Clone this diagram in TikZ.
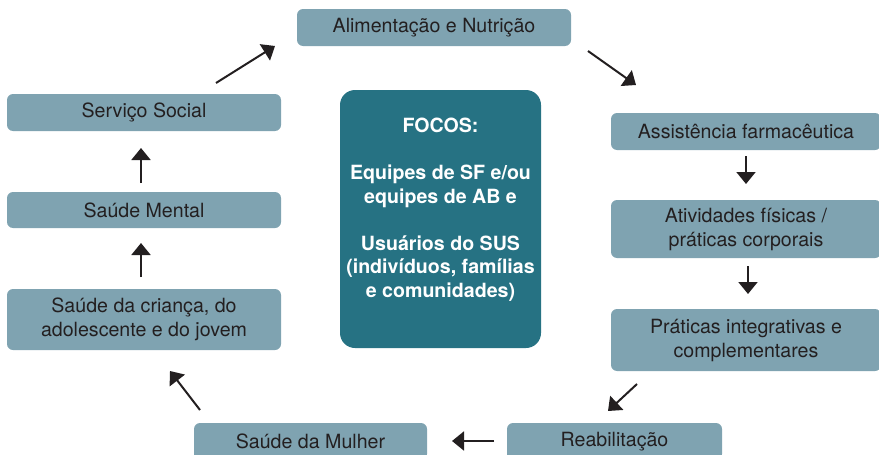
\documentclass[tikz,border=0pt]{standalone}
\usepackage{fontspec}
\setmainfont{TeX Gyre Heros}
\usetikzlibrary{arrows.meta}
\definecolor{boxc}{HTML}{7FA3B1}
\definecolor{focc}{HTML}{267283}
\definecolor{txtc}{HTML}{231F20}
\begin{document}
\begin{tikzpicture}[x=1pt,y=-1pt,
  topic/.style={fill=boxc, rounded corners=6pt, text=txtc, align=center,
    font=\fontsize{19.6}{24}\selectfont, inner sep=0pt, minimum height=37pt},
  arr/.style={-{Triangle[length=12pt,width=19pt]}, line width=2pt, draw=txtc},
]
\useasboundingbox (0,0) rectangle (879,455);
\clip (0,0) rectangle (879,455);

% topic boxes
\node[topic, minimum width=274pt] (alim) at (434,27.5) {Alimentação e Nutrição};
\node[topic, minimum width=274pt] (serv) at (144,112.5) {Serviço Social};
\node[topic, minimum width=274pt, minimum height=36pt] (ment) at (144,210) {Saúde Mental};
\node[topic, minimum width=274pt, minimum height=61pt] (cria) at (144,319.5) {Saúde da criança, do\\adolescente e do jovem};
\node[topic, minimum width=233pt] (mulh) at (310.5,441.5) {Saúde da Mulher};
\node[topic, minimum width=215pt] (reab) at (614.5,441.5) {Reabilitação};
\node[topic, minimum width=270pt, minimum height=62pt] (prat) at (746,340) {Práticas integrativas e\\complementares};
\node[topic, minimum width=270pt, minimum height=58pt] (ativ) at (746,229) {Atividades físicas /\\práticas corporais};
\node[topic, minimum width=270pt] (assi) at (746,131.5) {Assistência farmacêutica};

% central box
\node[fill=focc, rounded corners=15pt, minimum width=201pt, minimum height=258pt, inner sep=0pt] (focos) at (440.5,219) {};
\node[anchor=north, inner sep=0pt, text=white, align=center,
  font=\bfseries\fontsize{19.6}{23.5}\selectfont] (ftext) at (440.5,118)
  {FOCOS:\\[23.5pt]Equipes de SF e/ou\\equipes de AB e\\[23.5pt]Usuários do SUS\\(indivíduos, famílias\\e comunidades)};

% arrow end points
\coordinate (a1s) at (216,83);  \coordinate (a1e) at (275,46);
\coordinate (a2s) at (588,51);  \coordinate (a2e) at (636,85);
\coordinate (a3s) at (746,156); \coordinate (a3e) at (746,184);
\coordinate (a4s) at (748,266); \coordinate (a4e) at (748,294);
\coordinate (a5s) at (637,384); \coordinate (a5e) at (608,411);
\coordinate (a6s) at (494,441); \coordinate (a6e) at (452,441);
\coordinate (a7s) at (200,410); \coordinate (a7e) at (170,371);
\coordinate (a8s) at (141,277); \coordinate (a8e) at (141,243);
\coordinate (a9s) at (141,183); \coordinate (a9e) at (141,148);

\draw[arr] (a1s) -- (a1e);
\draw[arr] (a2s) -- (a2e);
\draw[arr] (a3s) -- (a3e);
\draw[arr] (a4s) -- (a4e);
\draw[arr] (a5s) -- (a5e);
\draw[arr] (a6s) -- (a6e);
\draw[arr] (a7s) -- (a7e);
\draw[arr] (a8s) -- (a8e);
\draw[arr] (a9s) -- (a9e);
\end{tikzpicture}
\end{document}
